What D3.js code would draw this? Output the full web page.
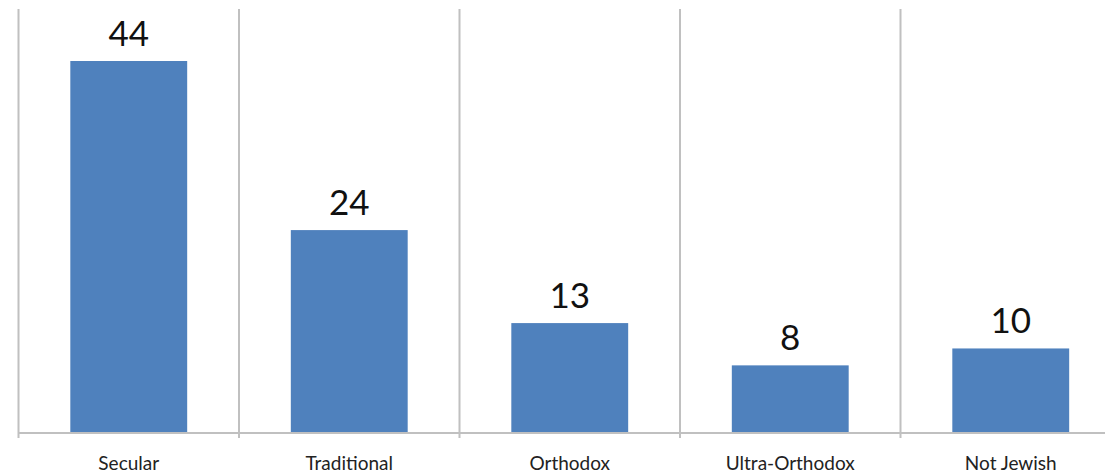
<!DOCTYPE html>
<html><head><meta charset="utf-8">
<script src="https://cdn.jsdelivr.net/npm/d3@7"></script>
<style>body{margin:0;background:#fff}svg{display:block}</style>
</head><body>
<svg id="c" width="1105" height="475"></svg>
<script>
const categories = ["Secular","Traditional","Orthodox","Ultra-Orthodox","Not Jewish"];
const values = [44,24,13,8,10];

const svg = d3.select("#c");
const x0 = 18.5, step = 220.5, baseY = 433, topY = 61;
const x = d3.scaleBand().domain(categories).range([x0, x0 + step*categories.length]).paddingInner(0.47).paddingOuter(0.235);
const y = d3.scaleLinear().domain([0,44]).range([baseY, topY]);

const seps = d3.range(categories.length).map(i => x0 + i*step);
svg.selectAll("line.sep").data(seps).enter().append("line")
  .attr("x1", d=>d).attr("x2", d=>d).attr("y1", 9).attr("y2", baseY+5)
  .attr("stroke", "#c0c0c0").attr("stroke-width", 2);

svg.append("line").attr("x1", x0).attr("x2", 1105).attr("y1", baseY).attr("y2", baseY)
  .attr("stroke", "#c0c0c0").attr("stroke-width", 2);

svg.selectAll("rect.bar").data(values).enter().append("rect")
  .attr("x", (d,i)=>x(categories[i])).attr("width", x.bandwidth())
  .attr("y", d=>y(d)).attr("height", d=>baseY - y(d) - 1)
  .attr("fill", "#4f81bd");

svg.selectAll("text.val").data(values).enter().append("text")
  .attr("x", (d,i)=>x(categories[i]) + x.bandwidth()/2)
  .attr("y", d=>y(d) - 15)
  .attr("text-anchor","middle")
  .attr("font-family","Lato, 'Open Sans', sans-serif").attr("font-size", 35)
  .attr("fill","#111").text(d=>d);

svg.selectAll("text.cat").data(categories).enter().append("text")
  .attr("x", d=>x(d) + x.bandwidth()/2)
  .attr("y", 470)
  .attr("text-anchor","middle")
  .attr("font-family","Lato, 'Open Sans', sans-serif").attr("font-size", 19)
  .attr("fill","#222").text(d=>d);
</script>
</body></html>
